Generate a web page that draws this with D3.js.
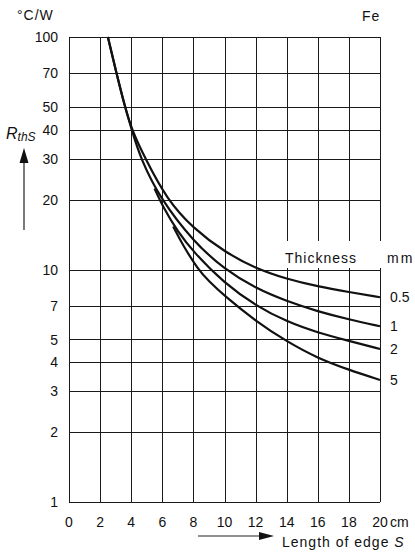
<!DOCTYPE html>
<html>
<head>
<meta charset="utf-8">
<script src="https://d3js.org/d3.v7.min.js"></script>
<style>
  body { margin: 0; background: #fff; }
  text { font-family: "Liberation Sans", Arial, sans-serif; fill: #111; }
</style>
</head>
<body>
<div id="chart"></div>
<script>
// Data
const xTicks = [0, 2, 4, 6, 8, 10, 12, 14, 16, 18, 20];
const yTicks = [1, 2, 3, 4, 5, 7, 10, 20, 30, 40, 50, 70, 100];
const thickness = ["0.5", "1", "2", "5"];

// [edge length S in cm, R_thS in °C/W]
const curve05 = [[2.5, 100], [3.05, 70], [3.6, 50], [4.03, 40], [4.9, 30], [6.3, 20], [8, 15], [10, 11.9], [12, 10.1], [14, 9.1], [16, 8.45], [18, 8.0], [20, 7.6]];
const curve1 = [[2.5, 100], [3.05, 70], [3.6, 50], [4.03, 40], [4.6, 30], [5.9, 20], [8, 13.2], [10, 10], [12, 8.3], [14, 7.3], [16, 6.6], [18, 6.1], [20, 5.7]];
const curve2 = [[5.5, 22.3], [6, 18.8], [7, 14.5], [8, 11.9], [10, 8.7], [12, 7.0], [14, 5.96], [16, 5.35], [18, 4.93], [20, 4.55]];
const curve5 = [[6.7, 15.3], [7.3, 12.8], [8.3, 10], [9, 8.9], [10, 7.7], [12, 6.0], [14, 4.9], [16, 4.15], [18, 3.7], [20, 3.35]];
const curves = [curve05, curve1, curve2, curve5];

const W = 415, H = 554;
const svg = d3.select("#chart").append("svg")
  .attr("width", W).attr("height", H);

const x = d3.scaleLinear().domain([0, 20]).range([69, 380]);
const y = d3.scaleLog().domain([1, 100]).range([502, 37]);

// grid
const grid = svg.append("g").attr("stroke", "#1a1a1a").attr("stroke-width", 1);
grid.selectAll(".h").data(yTicks).join("line")
  .attr("x1", x(0)).attr("x2", x(20))
  .attr("y1", d => Math.round(y(d)) + 0.5).attr("y2", d => Math.round(y(d)) + 0.5);
grid.selectAll(".v").data(xTicks).join("line")
  .attr("y1", y(100)).attr("y2", y(1))
  .attr("x1", d => Math.round(x(d)) + 0.5).attr("x2", d => Math.round(x(d)) + 0.5);

// white box behind the legend title
svg.append("rect")
  .attr("x", 283).attr("y", 241)
  .attr("width", 99).attr("height", 27)
  .attr("fill", "#fff");

svg.append("text").attr("x", 285).attr("y", 263)
  .attr("font-size", 14).attr("letter-spacing", 1).text("Thickness");
svg.append("text").attr("x", 387).attr("y", 263)
  .attr("font-size", 14).attr("letter-spacing", 2).text("mm");

// curves
const line = d3.line()
  .x(d => x(d[0])).y(d => y(d[1]))
  .curve(d3.curveBasis);

svg.append("g").selectAll("path").data(curves).join("path")
  .attr("d", line)
  .attr("fill", "none")
  .attr("stroke", "#111")
  .attr("stroke-width", 2.2);

svg.append("g").selectAll("text").data(curves).join("text")
  .attr("x", 390)
  .attr("y", d => y(d[d.length - 1][1]))
  .attr("dy", "0.36em")
  .attr("font-size", 14)
  .text((d, i) => thickness[i]);

// y tick labels
svg.append("g").selectAll("text").data(yTicks).join("text")
  .attr("x", 58).attr("y", d => y(d))
  .attr("dy", "0.36em")
  .attr("text-anchor", "end")
  .attr("font-size", 14)
  .text(d => d);

// x tick labels
svg.append("g").selectAll("text").data(xTicks).join("text")
  .attr("x", d => x(d)).attr("y", 527)
  .attr("text-anchor", "middle")
  .attr("font-size", 14)
  .text(d => d);
svg.append("text").attr("x", 390).attr("y", 527)
  .attr("font-size", 14).text("cm");

// units and labels
svg.append("text").attr("x", 17).attr("y", 20)
  .attr("font-size", 14).attr("letter-spacing", 1).text("°C/W");
svg.append("text").attr("x", 362).attr("y", 21)
  .attr("font-size", 14).attr("letter-spacing", 1).text("Fe");

const rl = svg.append("text").attr("x", 6).attr("y", 139).attr("font-style", "italic");
rl.append("tspan").attr("font-size", 16).text("R");
rl.append("tspan").attr("font-size", 12).attr("dy", 2).text("thS");

// y arrow
svg.append("line").attr("x1", 24).attr("x2", 24).attr("y1", 160).attr("y2", 230)
  .attr("stroke", "#222").attr("stroke-width", 1.2);
svg.append("path").attr("d", "M24,148 L19.5,163 L28.5,163 Z").attr("fill", "#111");

// x arrow
svg.append("line").attr("x1", 198).attr("x2", 262).attr("y1", 536).attr("y2", 536)
  .attr("stroke", "#222").attr("stroke-width", 1.2);
svg.append("path").attr("d", "M274,536 L259,532 L259,540 Z").attr("fill", "#111");

const xl = svg.append("text").attr("x", 282).attr("y", 547)
  .attr("font-size", 14).attr("letter-spacing", 1);
xl.append("tspan").text("Length of edge ");
xl.append("tspan").attr("font-style", "italic").text("S");
</script>
</body>
</html>
